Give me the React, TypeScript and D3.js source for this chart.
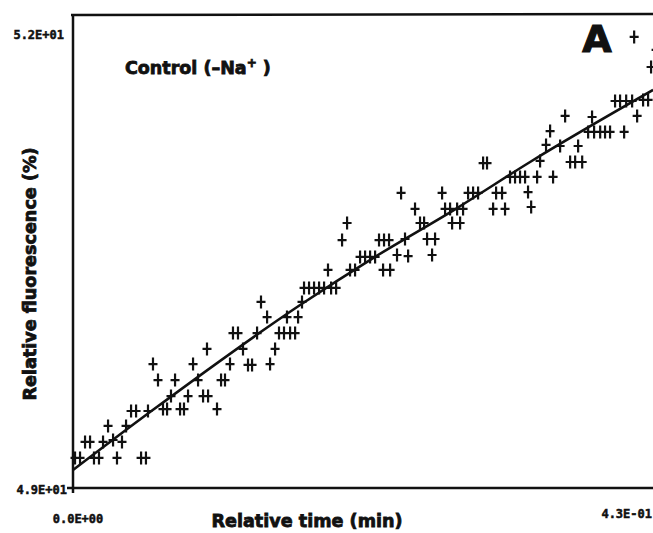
import * as d3 from 'd3';

// relative time (min) of each reading
const timeMin = [
  0.0015, 0.0052, 0.0089, 0.0126, 0.0155, 0.0192, 0.0222, 0.0259, 0.0296, 0.0325,
  0.0362, 0.0392, 0.0429, 0.0466, 0.0503, 0.0539, 0.0554, 0.0591, 0.0628, 0.0665,
  0.0695, 0.0724, 0.0754, 0.0791, 0.082, 0.085, 0.0887, 0.0924, 0.0961, 0.099,
  0.0998, 0.1064, 0.1094, 0.1123, 0.116, 0.1182, 0.1219, 0.1256, 0.1293, 0.1323,
  0.136, 0.1389, 0.1434, 0.1456, 0.1493, 0.1522, 0.1559, 0.1581, 0.1604, 0.1641,
  0.1663, 0.1692, 0.1707, 0.1744, 0.1781, 0.1818, 0.1855, 0.1884, 0.1907, 0.1944,
  0.1988, 0.2025, 0.2047, 0.2084, 0.2121, 0.2158, 0.2195, 0.2232, 0.2261, 0.2291,
  0.2298, 0.2335, 0.2343, 0.2394, 0.2424, 0.2453, 0.2476, 0.2527, 0.2564, 0.2594,
  0.2616, 0.2653, 0.2675, 0.2727, 0.2749, 0.2786, 0.2801, 0.2838, 0.286, 0.2882,
  0.2919, 0.2956, 0.2993, 0.303, 0.3059, 0.3104, 0.3126, 0.317, 0.3192, 0.3229,
  0.3266, 0.3303, 0.334, 0.3362, 0.3385, 0.3429, 0.3451, 0.3495, 0.3525, 0.3547,
  0.3599, 0.3636, 0.3673, 0.371, 0.3732, 0.3762, 0.3806, 0.3835, 0.385, 0.3895,
  0.3931, 0.3968, 0.4005, 0.4042, 0.4072, 0.4087, 0.4131, 0.4146, 0.4168, 0.4212,
  0.4249, 0.4271, 0.4308,
];

// relative fluorescence (%) for each reading
const fluorescence = [
  49.199, 49.199, 49.305, 49.305, 49.199, 49.199, 49.305, 49.411, 49.318, 49.199,
  49.305, 49.411, 49.51, 49.51, 49.199, 49.199, 49.51, 49.821, 49.715, 49.523,
  49.523, 49.609, 49.715, 49.523, 49.523, 49.609, 49.821, 49.715, 49.609, 49.921,
  49.609, 49.523, 49.715, 49.715, 49.821, 50.026, 50.026, 49.921, 49.815, 49.815,
  50.026, 50.232, 50.132, 49.821, 49.921, 50.026, 50.026, 50.132, 50.026, 50.026,
  50.132, 50.232, 50.325, 50.325, 50.325, 50.325, 50.325, 50.444, 50.325, 50.325,
  50.642, 50.755, 50.444, 50.444, 50.53, 50.53, 50.53, 50.53, 50.642, 50.444,
  50.642, 50.642, 50.444, 50.543, 50.954, 50.649, 50.536, 50.848, 50.755, 50.755,
  50.649, 50.543, 50.649, 50.954, 50.848, 50.848, 50.755, 50.848, 50.755, 50.848,
  50.954, 50.954, 50.954, 51.152, 51.152, 50.848, 50.954, 50.954, 50.848, 51.06,
  51.06, 51.06, 51.06, 50.96, 50.861, 51.06, 51.166, 51.272, 51.364, 51.06,
  51.265, 51.464, 51.159, 51.159, 51.265, 51.159, 51.358, 51.457, 51.358, 51.358,
  51.358, 51.358, 51.563, 51.563, 51.358, 51.563, 51.563, 51.987, 51.464, 51.57,
  51.57, 51.788, 51.901,
];

// fitted curve, sampled along the drawn line
const fitTime = [0, 0.0569, 0.1678, 0.2217, 0.2838, 0.3377, 0.4286];
const fitFluor = [49.119, 49.503, 50.212, 50.523, 50.854, 51.159, 51.636];

const xDomain = [0, 0.43];
const yDomain = [49, 52];
const xTickLabels = ['0.0E+00', '4.3E-01'];
const yTickLabels = ['4.9E+01', '5.2E+01'];

const W = 653;
const H = 533;
const INK = '#111';
const TICK_FONT = '"DejaVu Sans Mono", monospace';
const TITLE_FONT = '"DejaVu Sans", "Liberation Sans", sans-serif';

export default function App() {
  const x = d3.scaleLinear().domain(xDomain).range([73, 655]);
  const y = d3.scaleLinear().domain(yDomain).range([488, 35]);

  const points = timeMin.map((t, i) => ({ t, f: fluorescence[i] }));
  const fit = fitTime.map((t, i) => ({ t, f: fitFluor[i] }));

  const fitLine = d3
    .line<{ t: number; f: number }>()
    .x(d => x(d.t))
    .y(d => y(d.f))
    .curve(d3.curveMonotoneX);

  // plus markers, a bit taller than wide like the plotter's
  const plus = points
    .map(d => {
      const px = x(d.t);
      const py = y(d.f);
      return `M${px - 4.5},${py}H${px + 4.5}M${px},${py - 6.5}V${py + 6.5}`;
    })
    .join('');

  const left = x(xDomain[0]);
  const bottom = y(yDomain[0]);

  return (
    <svg
      width={W}
      height={H}
      style={{ position: 'absolute', left: 0, top: 0, background: '#fff' }}
    >
      <rect width={W} height={H} fill="#fff" />

      {/* frame */}
      <line x1={left - 2} x2={W} y1={15} y2={14} stroke={INK} strokeWidth={2.5} />
      <line x1={left} x2={left} y1={14} y2={bottom + 5} stroke={INK} strokeWidth={2.5} />
      <line x1={left - 6} x2={W} y1={bottom} y2={bottom} stroke={INK} strokeWidth={2.5} />

      {/* data */}
      <path d={plus} stroke={INK} strokeWidth={2.2} fill="none" />
      <path d={fitLine(fit) || ''} stroke={INK} strokeWidth={2.6} fill="none" />

      {/* tick labels */}
      <g fontFamily={TICK_FONT} fontWeight="bold" fontSize={12} fill={INK} stroke={INK} strokeWidth={0.5}>
        <text x={64} y={y(yDomain[1])} dominantBaseline="middle" textAnchor="end">
          {yTickLabels[1]}
        </text>
        <text x={67} y={y(yDomain[0]) + 2} dominantBaseline="middle" textAnchor="end">
          {yTickLabels[0]}
        </text>
        <text x={x(xDomain[0]) + 5} y={523} textAnchor="middle">
          {xTickLabels[0]}
        </text>
        <text x={652} y={518} textAnchor="end">
          {xTickLabels[1]}
        </text>
      </g>

      {/* axis titles */}
      <g fontFamily={TITLE_FONT} fontWeight="bold" fill={INK} stroke={INK} strokeWidth={0.8}>
        <text x={307} y={527} fontSize={17.6} textAnchor="middle">
          Relative time (min)
        </text>
        <text
          transform="translate(36,274) rotate(-90)"
          fontSize={17.6}
          textAnchor="middle"
        >
          Relative fluorescence (%)
        </text>
        <text x={125} y={74} fontSize={17.5}>
          Control (–Na
          <tspan fontSize={12} dy={-7}>+</tspan>
          <tspan dy={7}> )</tspan>
        </text>
        <text x={597} y={52} fontSize={38} textAnchor="middle" strokeWidth={1.2}>
          A
        </text>
      </g>
    </svg>
  );
}
